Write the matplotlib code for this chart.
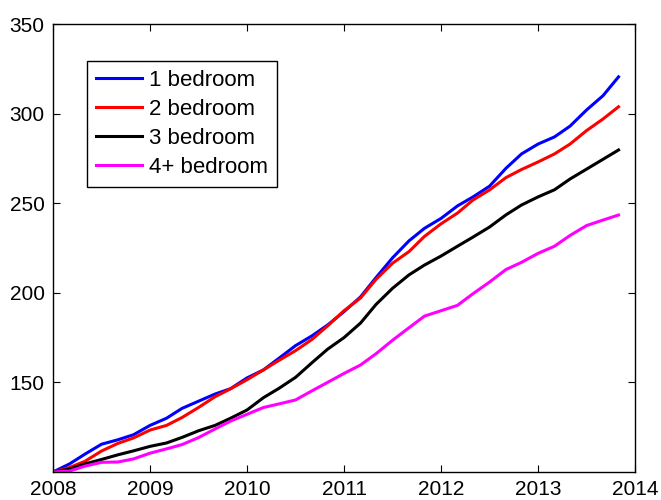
import matplotlib
matplotlib.use("Agg")
import matplotlib.pyplot as plt
import numpy as np

plt.rcParams['font.family'] = ['Liberation Sans', 'DejaVu Sans']

# time axis, every two months from Jan 2008 to Nov 2013
years = [2008.00, 2008.17, 2008.33, 2008.50, 2008.67, 2008.83,
         2009.00, 2009.17, 2009.33, 2009.50, 2009.67, 2009.83,
         2010.00, 2010.17, 2010.33, 2010.50, 2010.67, 2010.83,
         2011.00, 2011.17, 2011.33, 2011.50, 2011.67, 2011.83,
         2012.00, 2012.17, 2012.33, 2012.50, 2012.67, 2012.83,
         2013.00, 2013.17, 2013.33, 2013.50, 2013.67, 2013.83]

bed1 = [100, 104.5, 110, 115.5, 118, 120.8,
        126, 130, 135.5, 139.5, 143.5, 146.5,
        152.5, 157, 163.5, 170.5, 176, 182,
        189.5, 197.7, 208.5, 219.5, 229, 236,
        241.5, 248.5, 253.5, 259.5, 269.5, 277.5,
        283, 287, 293, 302, 310, 320.5]

bed2 = [100, 102.5, 106, 111.7, 116, 119,
        123.4, 126, 130.4, 136, 142, 146.4,
        151.5, 157, 162.3, 167.7, 174, 181.5,
        190, 197.1, 207.5, 216.5, 223, 231.5,
        238.5, 244.5, 251.8, 257.4, 264.3, 268.8,
        273, 277.5, 283, 290.5, 297, 303.8]

bed3 = [100, 101.7, 104.5, 107, 109.6, 111.8,
        114.3, 116.2, 119.3, 123, 126, 130,
        134.6, 141.5, 146.7, 152.8, 161, 168.5,
        175, 183.1, 193.5, 202.5, 210, 215.5,
        220.5, 226, 231.1, 236.7, 243.5, 249,
        253.5, 257.5, 263.5, 269, 274.5, 279.7]

bed4 = [100, 100.5, 103.3, 105.4, 105.6, 107.3,
        110.5, 112.9, 115.3, 119.2, 124, 128.4,
        132.2, 136, 138, 140.2, 145.3, 150,
        155, 159.7, 166, 173.5, 180.5, 187,
        190, 193, 199.5, 206, 213, 217,
        222, 226, 232, 237.5, 240.6, 243.4]

labels = ['1 bedroom', '2 bedroom', '3 bedroom', '4+ bedroom']
colors = ['#0000ff', '#ff0000', '#000000', '#ff00ff']

fig = plt.figure(figsize=(6.61, 5.0), dpi=100)
ax = fig.add_axes([0.0802, 0.056, 0.8805, 0.896])

for series, lab, col in zip([bed1, bed2, bed3, bed4], labels, colors):
    ax.plot(years, series, color=col, lw=2.2, label=lab)

ax.set_xlim(2008, 2014)
ax.set_ylim(100, 350)
ax.set_xticks(np.arange(2008, 2015, 1))
ax.set_xticklabels([str(y) for y in range(2008, 2015)])
ax.set_yticks([150, 200, 250, 300, 350])
ax.tick_params(direction='in', top=True, right=True, length=5, width=0.8,
               labelsize=15, pad=6)
for sp in ax.spines.values():
    sp.set_linewidth(1.0)

leg = ax.legend(loc='upper left', bbox_to_anchor=(0.058, 0.917), borderaxespad=0,
                fontsize=16, handlelength=2.1, handletextpad=0.3,
                labelspacing=0.36, fancybox=False, framealpha=1, borderpad=0.4)
leg.get_frame().set_edgecolor('black')
leg.get_frame().set_linewidth(1.0)

fig.savefig('out.png', dpi=100)
